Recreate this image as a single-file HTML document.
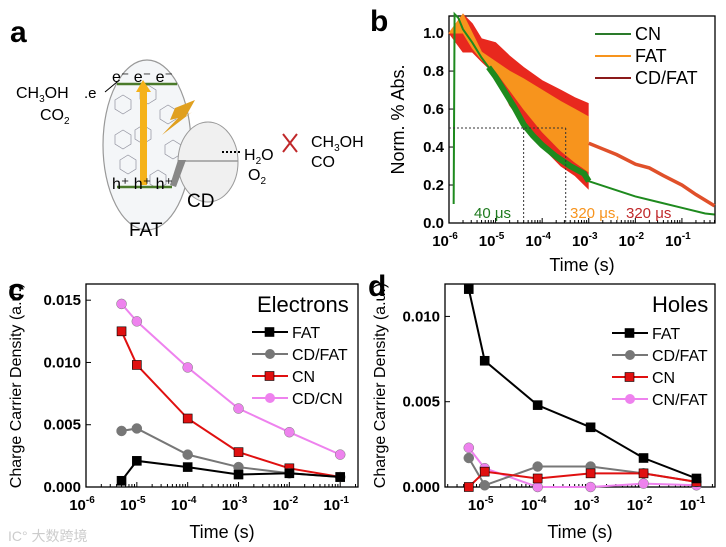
<!DOCTYPE html>
<html><head><meta charset="utf-8">
<style>
body{margin:0;background:#fff;}
svg{display:block;font-family:"Liberation Sans","Noto Sans CJK SC",sans-serif;}
.tk{font-size:15px;font-weight:bold;}
.sup{font-size:10px;font-weight:bold;}
</style></head>
<body>
<svg id="fig" width="726" height="547" viewBox="0 0 726 547">
<g>
<text x="10" y="42" font-size="30" font-weight="bold">a</text>
<ellipse cx="147" cy="145" rx="44" ry="85" fill="#f4f6f8" stroke="#999" stroke-width="1.2"/>
<g stroke="#667" stroke-width="0.7" fill="none" opacity="0.7">
<path d="M115,100 l8,-5 8,5 0,9 -8,5 -8,-5z M135,130 l8,-5 8,5 0,9 -8,5 -8,-5z M120,160 l8,-5 8,5 0,9 -8,5 -8,-5z M150,175 l8,-5 8,5 0,9 -8,5 -8,-5z M160,110 l8,-5 8,5 0,9 -8,5 -8,-5z M115,135 l8,-5 8,5 0,9 -8,5 -8,-5z M140,90 l8,-5 8,5 0,9 -8,5 -8,-5z M165,145 l8,-5 8,5 0,9 -8,5 -8,-5z"/>
</g>
<line x1="117" y1="84" x2="177" y2="84" stroke="#4a7a2a" stroke-width="2.5"/>
<line x1="117" y1="187" x2="172" y2="187" stroke="#4a7a2a" stroke-width="2.5"/>
<rect x="140" y="90" width="7" height="95" fill="#f5b21a"/>
<polygon points="136,92 143,80 151,92" fill="#f5b21a"/>
<polygon points="175,108 195,100 186,116 192,112 162,135 178,118 170,120" fill="#e0a020"/>
<ellipse cx="208" cy="162" rx="30" ry="40" fill="#f0f0f0" stroke="#999" stroke-width="1"/>
<line x1="178" y1="161" x2="238" y2="161" stroke="#999" stroke-width="1.5"/>
<polygon points="170,185 178,160 186,160 176,187" fill="#888"/>
<text x="112" y="82" font-size="16">e⁻ e⁻ e⁻</text>
<text x="112" y="189" font-size="16">h⁺ h⁺ h⁺</text>
<text x="16" y="98" font-size="16">CH<tspan font-size="10" dy="4">3</tspan><tspan dy="-4">OH</tspan></text>
<text x="40" y="120" font-size="16">CO<tspan font-size="10" dy="4">2</tspan></text>
<text x="84" y="98" font-size="15">.e</text>
<line x1="105" y1="92" x2="117" y2="82" stroke="#000"/>
<text x="187" y="207" font-size="19">CD</text>
<text x="129" y="236" font-size="19">FAT</text>
<line x1="222" y1="152" x2="240" y2="152" stroke="#000" stroke-width="2" stroke-dasharray="2,2"/>
<text x="244" y="160" font-size="16">H<tspan font-size="10" dy="4">2</tspan><tspan dy="-4">O</tspan></text>
<text x="248" y="180" font-size="16">O<tspan font-size="10" dy="4">2</tspan></text>
<path d="M283,134 l14,18 M297,134 l-14,18" stroke="#c0282a" stroke-width="2"/>
<text x="311" y="147" font-size="16">CH<tspan font-size="10" dy="4">3</tspan><tspan dy="-4">OH</tspan></text>
<text x="311" y="167" font-size="16">CO</text>
</g>
<text x="370" y="31" font-size="30" font-weight="bold">b</text>
<text x="8" y="300" font-size="30" font-weight="bold">c</text>
<text x="368" y="296" font-size="30" font-weight="bold">d</text>
<g id="pb"></g>
<g id="pc"></g>
<g id="pd"></g>
<text x="8" y="541" font-size="14" fill="#ccc">IC° 大数跨境</text>
</svg>
<script>
const bCnT = [-5.9,-5.88,-5.8,-5.7,-5.5,-5.3,-5.15,-5,-4.8,-4.6,-4.4,-4.2,-4,-3.7,-3.4,-3.1,-3,-2.5,-2,-1.5,-1,-0.5,-0.3];
const bCnV = [0.1,1.1,1.08,1.02,0.95,0.87,0.82,0.77,0.69,0.61,0.52,0.46,0.41,0.35,0.3,0.26,0.22,0.18,0.14,0.11,0.08,0.05,0.045];
const bFatT = [-6,-5.7,-5.5,-5.3,-5,-4.7,-4.4,-4,-3.6,-3.3,-3.01];
const bFatUp = [1.0,1.1,1.0,0.9,0.85,0.8,0.76,0.7,0.64,0.6,0.56];
const bFatLo = [1.0,1.0,0.92,0.86,0.8,0.7,0.6,0.48,0.38,0.32,0.27];
const bRedUp = [1.0,1.1,1.05,0.97,0.95,0.88,0.82,0.75,0.7,0.66,0.63];
const bRedLo = [1.0,0.9,0.9,0.85,0.78,0.62,0.52,0.4,0.3,0.25,0.18];
const bTailT = [-3,-2.7,-2.4,-2,-1.7,-1.4,-1,-0.7,-0.3];
const bTailV = [0.42,0.39,0.36,0.31,0.29,0.25,0.2,0.15,0.09];
const bYTicks = [0,0.2,0.4,0.6,0.8,1.0];
const bYLabels = ["0.0","0.2","0.4","0.6","0.8","1.0"];
const bXTicks = [-6,-5,-4,-3,-2,-1];
const cTimes = [-5.301,-5,-4,-3,-2,-1];
const cFAT = [0.0005,0.0021,0.0016,0.0010,0.0011,0.0008];
const cCDFAT = [0.0045,0.0047,0.0026,0.0016,0.0011,0.0008];
const cCN = [0.0125,0.0098,0.0055,0.0028,0.0015,0.0008];
const cCDCN = [0.0147,0.0133,0.0096,0.0063,0.0044,0.0026];
const cYTicks = [0,0.005,0.010,0.015];
const cYLabels = ["0.000","0.005","0.010","0.015"];
const cXTicks = [-6,-5,-4,-3,-2,-1];
const dTimes = [-5.301,-5,-4,-3,-2,-1];
const dFAT = [0.0116,0.0074,0.0048,0.0035,0.0017,0.0005];
const dCDFAT = [0.0017,0.0001,0.0012,0.0012,0.0008,0.0003];
const dCN = [0.0000,0.0009,0.0005,0.0008,0.0008,0.0003];
const dCNFAT = [0.0023,0.0011,0.0000,0.0000,0.0002,0.0001];
const dYTicks = [0,0.005,0.010];
const dYLabels = ["0.000","0.005","0.010"];
const dXTicks = [-5,-4,-3,-2,-1];

const NS="http://www.w3.org/2000/svg";
function mk(parent,tag,attrs,text){const e=document.createElementNS(NS,tag);for(const k in attrs)e.setAttribute(k,attrs[k]);if(text!==undefined)e.textContent=text;parent.appendChild(e);return e;}

function axes(g,o){
  const sx=v=>o.x0+(v-o.t0)/(o.t1-o.t0)*(o.x1-o.x0);
  const sy=v=>o.y0-(v-o.v0)/(o.v1-o.v0)*(o.y0-o.y1);
  const fr=mk(g,'rect',{x:o.x0,y:o.y1,width:o.x1-o.x0,height:o.y0-o.y1,fill:'none',stroke:'#000','stroke-width':1.3});
  
  
  o.yt.forEach((v,i)=>{const y=sy(v);
    mk(g,'line',{x1:o.x0,x2:o.x0+5,y1:y,y2:y,stroke:'#000'});
    const t=mk(g,'text',{x:o.x0-5,y:y+5,'text-anchor':'end',class:'tk'},o.yl[i]);
    
    
  });
  for(let d=Math.floor(o.t0);d<o.t1;d++){for(let m=1;m<10;m++){const lv=d+Math.log10(m);if(lv<o.t0||lv>o.t1)continue;const x=sx(lv);
    mk(g,'line',{x1:x,x2:x,y1:o.y0,y2:o.y0-(m==1?5:3),stroke:'#000'});}}
  o.xt.forEach(v=>{const x=sx(v);
    const t=mk(g,'text',{x:x-4,y:o.y0+23,'text-anchor':'middle',class:'tk'});
    
    
    mk(t,'tspan',{},'10');mk(t,'tspan',{dy:-7,class:'sup'},String(v));
  });
  const xt=mk(g,'text',{x:(o.x0+o.x1)/2,y:o.xtY,'text-anchor':'middle','font-size':18},'Time (s)');
  
  
  const yt=mk(g,'text',{x:0,y:0,'text-anchor':'middle','font-size':o.ytFs||16,transform:`translate(${o.ytX},${(o.y0+o.y1)/2}) rotate(-90)`},o.ytitle);
  
  
  return {sx,sy};
}

function series(g,s,times,vals,color,marker,name){
  const pts=times.map((t,i)=>s.sx(t)+','+s.sy(vals[i])).join(' ');
  const pl=mk(g,'polyline',{points:pts,fill:'none',stroke:color,'stroke-width':2});
  
  
  times.forEach((t,i)=>{const x=s.sx(t),y=s.sy(vals[i]);let m;
    if(marker=='sq')m=mk(g,'rect',{x:x-4.5,y:y-4.5,width:9,height:9,fill:color,stroke:'#000','stroke-width':0.6});
    else m=mk(g,'circle',{cx:x,cy:y,r:5,fill:color,stroke:'#777','stroke-width':0.5});
    
    
  });
}
function legend(g,x,y,items){
  items.forEach((it,i)=>{const yy=y+i*22;
    mk(g,'line',{x1:x,x2:x+36,y1:yy,y2:yy,stroke:it.c,'stroke-width':2});
    if(it.m=='sq')mk(g,'rect',{x:x+13,y:yy-4.5,width:9,height:9,fill:it.c,stroke:'#000','stroke-width':0.6});
    else if(it.m=='ci')mk(g,'circle',{cx:x+18,cy:yy,r:5,fill:it.c});
    const t=mk(g,'text',{x:x+40,y:yy+6,'font-size':it.fs||16},it.n);
    
    
  });
}

(function(){
 const g=document.getElementById('pb');
 const s=axes(g,{x0:449,x1:715,y0:223,y1:16,t0:-6,t1:-0.29,v0:0,v1:1.09,yt:bYTicks,yl:bYLabels,xt:bXTicks,xtY:271,ytX:404,ytitle:'Norm. % Abs.',ytFs:18});
 const band=(up,lo,col,name)=>{const p=bFatT.map((t,i)=>s.sx(t)+','+s.sy(up[i])).concat(bFatT.slice().reverse().map((t,j)=>{const i=bFatT.length-1-j;return s.sx(t)+','+s.sy(lo[i]);})).join(' ');
  const e=mk(g,'polygon',{points:p,fill:col,stroke:col,'stroke-width':0.8});
  
  };
 band(bRedUp,bRedLo,'#e8281e','cd-fat-trace-band');
 band(bFatUp,bFatLo,'#f7941d','fat-trace-band');
 const tl=mk(g,'polyline',{points:bTailT.map((t,i)=>s.sx(t)+','+s.sy(bTailV[i])).join(' '),fill:'none',stroke:'#e0502a','stroke-width':3.5});
 
 
 const cn=mk(g,'polyline',{points:bCnT.map((t,i)=>s.sx(t)+','+s.sy(bCnV[i])).join(' '),fill:'none',stroke:'#1e8a1e','stroke-width':2});
 
 
 const cnN=bCnT.filter(t=>t>=-5.2&&t<=-3);
 const cnb=mk(g,'polyline',{points:bCnT.map((t,i)=>[t,bCnV[i]]).filter(p=>p[0]>=-5.2&&p[0]<=-3).map(p=>s.sx(p[0])+','+s.sy(p[1])).join(' '),fill:'none',stroke:'#1e8a1e','stroke-width':6});
 
 
 const half=0.5;
 [Math.log10(40e-6),Math.log10(320e-6)].forEach(t=>{
   mk(g,'line',{x1:449,x2:s.sx(t),y1:s.sy(half),y2:s.sy(half),stroke:'#333','stroke-dasharray':'2,2'});
   mk(g,'line',{x1:s.sx(t),x2:s.sx(t),y1:s.sy(half),y2:223,stroke:'#333','stroke-dasharray':'2,2'});});
 mk(g,'text',{x:474,y:218,'font-size':15,fill:'#1e7a1e'},'40 μs');
 mk(g,'text',{x:570,y:218,'font-size':15,fill:'#f7941d'},'320 μs,');
 mk(g,'text',{x:626,y:218,'font-size':15,fill:'#c0282a'},'320 μs');
 legend(g,595,34,[{n:'CN',c:'#2a7a2a',fs:18},{n:'FAT',c:'#f7941d',fs:18},{n:'CD/FAT',c:'#8b1a1a',fs:18}]);
})();
(function(){
 const g=document.getElementById('pc');
 const s=axes(g,{x0:86,x1:358,y0:487,y1:284,t0:-6,t1:-0.65,v0:0,v1:0.0163,yt:cYTicks,yl:cYLabels,xt:cXTicks,xtY:538,ytX:21,ytitle:'Charge Carrier Density (a.u.)'});
 series(g,s,cTimes,cCDCN,'#ee82ee','ci','cd-cn');
 series(g,s,cTimes,cCN,'#e01010','sq','cn');
 series(g,s,cTimes,cCDFAT,'#777','ci','cd-fat');
 series(g,s,cTimes,cFAT,'#000','sq','fat');
 const t=mk(g,'text',{x:257,y:312,'font-size':22},'Electrons');
 
 
 legend(g,252,332,[{n:'FAT',c:'#000',m:'sq'},{n:'CD/FAT',c:'#777',m:'ci'},{n:'CN',c:'#e01010',m:'sq'},{n:'CD/CN',c:'#ee82ee',m:'ci'}]);
})();
(function(){
 const g=document.getElementById('pd');
 const s=axes(g,{x0:445,x1:715,y0:487,y1:284,t0:-5.75,t1:-0.65,v0:0,v1:0.0119,yt:dYTicks,yl:dYLabels,xt:dXTicks,xtY:538,ytX:385,ytitle:'Charge Carrier Density (a.u.)'});
 series(g,s,dTimes,dCNFAT,'#ee82ee','ci','cn-fat');
 series(g,s,dTimes,dCDFAT,'#777','ci','cd-fat');
 series(g,s,dTimes,dCN,'#e01010','sq','cn');
 series(g,s,dTimes,dFAT,'#000','sq','fat');
 const t=mk(g,'text',{x:652,y:312,'font-size':22},'Holes');
 
 
 legend(g,612,333,[{n:'FAT',c:'#000',m:'sq'},{n:'CD/FAT',c:'#777',m:'ci'},{n:'CN',c:'#e01010',m:'sq'},{n:'CN/FAT',c:'#ee82ee',m:'ci'}]);
})();
</script>
</body></html>
